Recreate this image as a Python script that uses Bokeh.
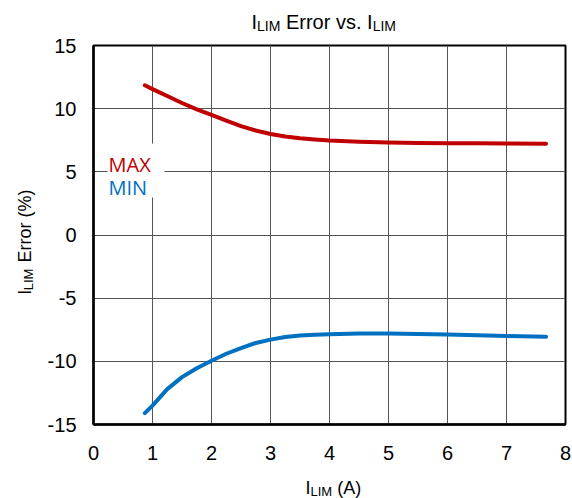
import math

from bokeh.embed import file_html
from bokeh.layouts import column, row
from bokeh.models import BoxAnnotation, FixedTicker, Label, Range1d
from bokeh.plotting import figure
from bokeh.resources import INLINE

# Current limit setting (A) and the measured error band (%)
current_a = [0.87, 1.0, 1.25, 1.5, 1.75, 2.0, 2.25, 2.5, 2.75, 3.0, 3.25, 3.5,
             3.75, 4.0, 4.5, 5.0, 5.5, 6.0, 6.5, 7.0, 7.67]
err_max = [11.85, 11.55, 11.0, 10.45, 9.95, 9.5, 9.05, 8.62, 8.27, 8.0, 7.8, 7.66,
           7.56, 7.48, 7.38, 7.32, 7.29, 7.27, 7.26, 7.24, 7.22]
err_min = [-14.1, -13.5, -12.2, -11.25, -10.55, -9.95, -9.4, -8.95, -8.55, -8.28, -8.08, -7.96,
           -7.9, -7.85, -7.8, -7.8, -7.83, -7.87, -7.93, -8.0, -8.06]

x_ticks = [0, 1, 2, 3, 4, 5, 6, 7, 8]
y_ticks = [-15, -10, -5, 0, 5, 10, 15]
series_names = ["MAX", "MIN"]
series_colors = ["#C00000", "#0070C0"]

# page geometry: title strip, y-label strip, plot, x-label strip
W, H = 572, 498
TITLE_H, XLAB_H, YLAB_W = 34, 32, 40
PLOT_W, PLOT_H = W - YLAB_W, H - TITLE_H - XLAB_H
FRAME_L, FRAME_T = 93, 45          # frame position on the page
FRAME_W, FRAME_H = 472, 379
X0, X1 = 0, 8
Y0, Y1 = -15, 15

FONT = "Liberation Sans"


def dx(px):
    """Page x pixel -> data x of the plot."""
    return X0 + (px - FRAME_L) / FRAME_W * (X1 - X0)


def dy(py):
    """Page y pixel -> data y of the plot."""
    return Y1 - (py - FRAME_T) / FRAME_H * (Y1 - Y0)


# Arial / Liberation Sans advance widths (per 1000 em)
ADV = {" ": 278, "(": 333, ")": 333, "%": 889, ".": 278, "A": 667, "E": 667,
       "I": 278, "L": 556, "M": 833, "r": 333, "o": 556, "s": 500, "v": 500}


def advance(s, size):
    return sum(ADV[c] for c in s) / 1000 * size


def text_canvas(width, height):
    """A bare figure whose data space is its own pixel grid (y down)."""
    f = figure(width=width, height=height, output_backend="svg", toolbar_location=None,
               x_range=Range1d(0, width), y_range=Range1d(height, 0),
               x_axis_type=None, y_axis_type=None, min_border=0)
    f.outline_line_color = None
    return f


def rich_text(fig, pieces, px, py, vertical=False):
    """Place text runs (text, size, baseline drop) one after another."""
    offset = 0.0
    for txt, size, drop in pieces:
        lead = advance(txt[: len(txt) - len(txt.lstrip())], size)
        offset += lead
        if vertical:
            x, y, ang = px + drop, py - offset, math.pi / 2
        else:
            x, y, ang = px + offset, py + drop, 0
        fig.add_layout(Label(x=x, y=y, text=txt.strip(), angle=ang,
                             text_font=FONT, text_font_size=f"{size}px",
                             text_color="black", text_align="left",
                             text_baseline="alphabetic"))
        offset += advance(txt, size) - lead


# ---- main plot ----
p = figure(width=PLOT_W, height=PLOT_H, output_backend="svg", toolbar_location=None,
           x_range=Range1d(X0, X1), y_range=Range1d(Y0, Y1),
           min_border_left=FRAME_L - YLAB_W, min_border_right=PLOT_W - (FRAME_L - YLAB_W) - FRAME_W,
           min_border_top=FRAME_T - TITLE_H, min_border_bottom=PLOT_H - (FRAME_T - TITLE_H) - FRAME_H)

p.outline_line_color = "black"
p.outline_line_width = 2

for ax, ticks in ((p.xaxis, x_ticks), (p.yaxis, y_ticks)):
    ax.ticker = FixedTicker(ticks=ticks)
    ax.major_label_overrides = {t: str(t) for t in ticks}
    ax.axis_line_width = 2.5
    ax.axis_line_color = "black"
    ax.major_tick_line_color = None
    ax.minor_tick_line_color = None
    ax.major_label_text_font = FONT
    ax.major_label_text_font_size = "20px"
    ax.major_label_text_color = "black"
p.xaxis.major_label_standoff = 15
p.yaxis.major_label_standoff = 11

p.xgrid.ticker = FixedTicker(ticks=x_ticks)
p.ygrid.ticker = FixedTicker(ticks=y_ticks)
for g in (p.xgrid, p.ygrid):
    g.grid_line_color = "#555555"
    g.grid_line_width = 1

for ys, col in zip((err_max, err_min), series_colors):
    p.line(current_a, ys, line_color=col, line_width=4,
           line_join="round", line_cap="round")

# white panel behind the series names
p.add_layout(BoxAnnotation(left=dx(107), right=dx(164), top=dy(143), bottom=dy(197),
                           fill_color="white", fill_alpha=1, line_alpha=0))
for name, col, base in zip(series_names, series_colors, (163.5, 187)):
    p.add_layout(Label(x=dx(108), y=dy(base), text=name, text_color=col,
                       text_font="Open Sans", text_font_size="20px",
                       text_baseline="alphabetic"))

# ---- title and axis titles (with subscripts) ----
title_fig = text_canvas(W, TITLE_H)
rich_text(title_fig, [("I", 20, 0), ("LIM", 14, 4.5), (" Error vs. I", 20, 0), ("LIM", 14, 4.5)], 251, 21)

ylab_fig = text_canvas(YLAB_W, PLOT_H)
rich_text(ylab_fig, [("I", 18, 0), ("LIM", 13, 4), ("  Error (%)", 18, 0)], 24, 318 - TITLE_H,
          vertical=True)

xlab_fig = text_canvas(W, XLAB_H)
rich_text(xlab_fig, [("I", 18, 0), ("LIM", 13, 4), (" (A)", 18, 0)], 305, 487 - (H - XLAB_H))

page = column(title_fig, row(ylab_fig, p), xlab_fig)

open("out.html", "w").write(file_html(page, INLINE))
